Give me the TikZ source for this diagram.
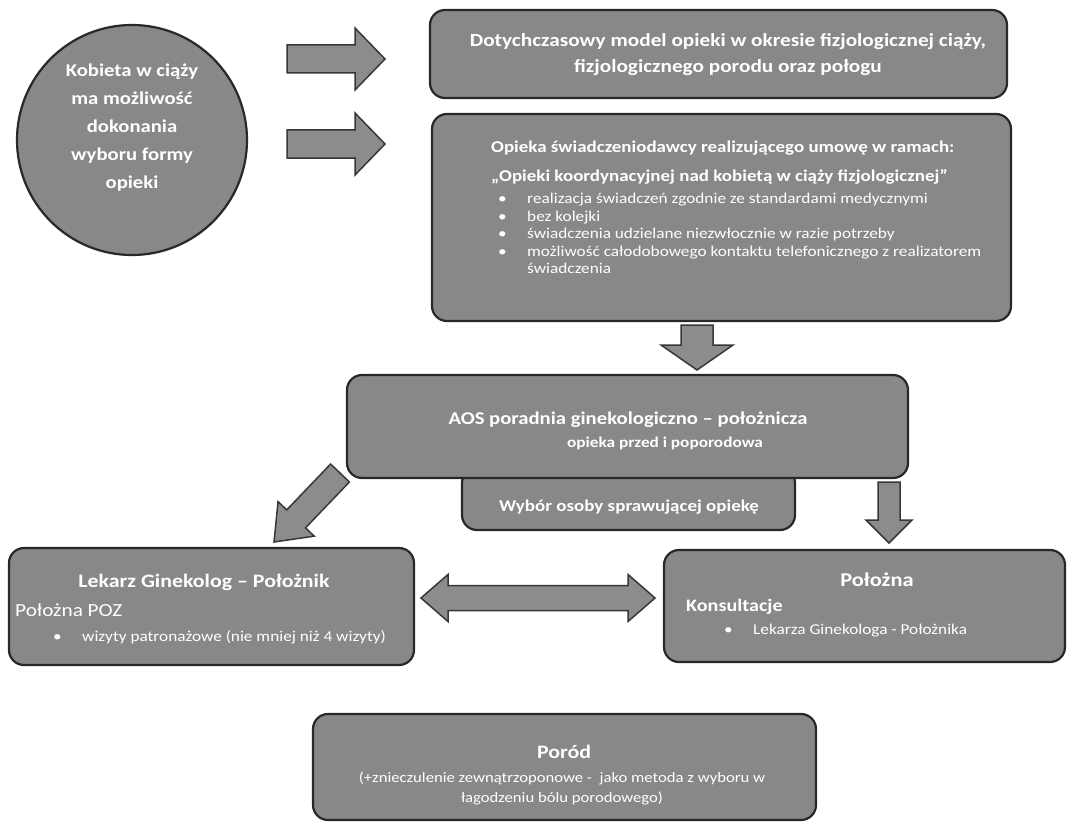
\documentclass[tikz,border=0pt]{standalone}
\usepackage{fontspec}
\setmainfont{Carlito}[FakeStretch=1.15]
\usetikzlibrary{calc}
\definecolor{boxgray}{RGB}{136,136,136}
\definecolor{edgegray}{RGB}{40,40,40}
\definecolor{arrgray}{RGB}{140,140,140}
\definecolor{arredge}{RGB}{55,55,55}
\tikzset{
  box/.style={draw=edgegray, fill=boxgray, line width=2.2pt, rounded corners=15pt, inner sep=0pt},
  arrowblk/.style={draw=arredge, fill=arrgray, line width=1.5pt, line join=miter},
  wt/.style={text=white, inner sep=0pt},
}
\newcommand\blockarrow[5]{%
  \coordinate (bac) at ($(#2)!#5!(#1)$);
  \filldraw[arrowblk] ($(#1)!#3!90:(#2)$) -- ($(bac)!#3!90:(#2)$) -- ($(bac)!#4!90:(#2)$) -- (#2)
    -- ($(bac)!#4!-90:(#2)$) -- ($(bac)!#3!-90:(#2)$) -- ($(#1)!#3!-90:(#2)$) -- cycle;
}
\newcommand\dblarrow[5]{%
  \coordinate (dbA) at ($(#1)!#5!(#2)$);
  \coordinate (dbB) at ($(#2)!#5!(#1)$);
  \filldraw[arrowblk] (#1) -- ($(dbA)!#4!90:(#2)$) -- ($(dbA)!#3!90:(#2)$) -- ($(dbB)!#3!90:(#2)$)
    -- ($(dbB)!#4!90:(#2)$) -- (#2) -- ($(dbB)!#4!-90:(#2)$) -- ($(dbB)!#3!-90:(#2)$)
    -- ($(dbA)!#3!-90:(#2)$) -- ($(dbA)!#4!-90:(#2)$) -- cycle;
}
\newcommand\bul{\makebox[29pt][l]{•}}
\begin{document}
\begin{tikzpicture}[x=1pt,y=-1pt]
\useasboundingbox (0,0) rectangle (1078,824);
\fill[white] (0,0) rectangle (1078,824);

% circle
\node[circle, draw=edgegray, fill=boxgray, line width=2.2pt, minimum size=230pt, inner sep=0pt] (circ) at (132,140) {};
\node[wt, align=center, font=\fontsize{18}{28}\selectfont\bfseries] (circt) at (132,128)
  {Kobieta w ciąży\\ma możliwość\\dokonania\\wyboru formy\\opieki};

% box 1
\node[box, minimum width=577pt, minimum height=88pt] (box1) at (718.5,54) {};
\node[wt, align=center, font=\fontsize{18.5}{26}\selectfont\bfseries] (box1t) at (728,55)
  {Dotychczasowy model opieki w okresie fizjologicznej ciąży,\\fizjologicznego porodu oraz połogu};

% box 2
\node[box, minimum width=579pt, minimum height=207pt] (box2) at (721.5,217.5) {};
\node[wt, anchor=west, align=left, font=\fontsize{16.5}{29}\selectfont\bfseries] (box2t) at (491,163)
  {Opieka świadczeniodawcy realizującego umowę w ramach:\\„Opieki koordynacyjnej nad kobietą w ciąży fizjologicznej”};
\node[wt, anchor=north west, align=left, font=\fontsize{15}{17.5}\selectfont] (box2l) at (498,193)
  {\bul realizacja świadczeń zgodnie ze standardami medycznymi\\
   \bul bez kolejki\\
   \bul świadczenia udzielane niezwłocznie w razie potrzeby\\
   \bul możliwość całodobowego kontaktu telefonicznego z realizatorem\\
   \hspace*{29pt}świadczenia};

% Wybór (behind AOS)
\node[box, minimum width=333pt, minimum height=62pt] (wyb) at (628.5,499) {};
\node[wt, font=\fontsize{16.5}{20}\selectfont\bfseries] (wybt) at (629,507) {Wybór osoby sprawującej opiekę};

% AOS
\node[box, minimum width=561pt, minimum height=103pt] (aos) at (627.5,426.5) {};
\node[wt, font=\fontsize{18}{20}\selectfont\bfseries] (aost) at (628,420) {AOS poradnia ginekologiczno – położnicza};
\node[wt, font=\fontsize{15}{18}\selectfont\bfseries] (aoss) at (665,443) {opieka przed i poporodowa};

% Lekarz
\node[box, minimum width=405pt, minimum height=117pt] (lek) at (211.5,606.5) {};
\node[wt, font=\fontsize{19}{22}\selectfont\bfseries] (lekt) at (204,582) {Lekarz Ginekolog – Położnik};
\node[wt, anchor=west, font=\fontsize{18.5}{22}\selectfont] (lekp) at (15,610) {Położna POZ};
\node[wt, anchor=west, font=\fontsize{15}{17}\selectfont] (lekb) at (53,637) {\bul wizyty patronażowe (nie mniej niż 4 wizyty)};

% Położna
\node[box, minimum width=401pt, minimum height=112pt] (pol) at (864.5,606) {};
\node[wt, font=\fontsize{19.5}{22}\selectfont\bfseries] (polt) at (877,580) {Położna};
\node[wt, anchor=west, font=\fontsize{17.5}{20}\selectfont\bfseries] (polk) at (686,607) {Konsultacje};
\node[wt, anchor=west, font=\fontsize{15}{17}\selectfont] (polb) at (724,631) {\bul Lekarza Ginekologa - Położnika};

% Poród
\node[box, minimum width=503pt, minimum height=106pt] (por) at (564.5,767) {};
\node[wt, font=\fontsize{19}{22}\selectfont\bfseries] (port) at (564,752) {Poród};
\node[wt, align=center, font=\fontsize{14.5}{20}\selectfont] (pors) at (562,788)
  {(+znieczulenie zewnątrzoponowe -\ \ jako metoda z wyboru w\\łagodzeniu bólu porodowego)};

% arrow end coordinates
\coordinate (a1s) at (287,59);  \coordinate (a1e) at (385,59);
\coordinate (a2s) at (287,144); \coordinate (a2e) at (385,144);
\coordinate (a3s) at (697,325); \coordinate (a3e) at (697,370);
\coordinate (a4s) at (340,473); \coordinate (a4e) at (274,542);
\coordinate (a5s) at (889,482); \coordinate (a5e) at (889,543);
\coordinate (d1) at (421,598);  \coordinate (d2) at (655,598);

\blockarrow{a1s}{a1e}{14pt}{31pt}{30pt}
\blockarrow{a2s}{a2e}{14pt}{31pt}{30pt}
\blockarrow{a3s}{a3e}{16pt}{36pt}{25pt}
\blockarrow{a4s}{a4e}{13pt}{25pt}{32pt}
\blockarrow{a5s}{a5e}{11pt}{23pt}{23pt}
\dblarrow{d1}{d2}{12.5pt}{23.5pt}{27pt}
\end{tikzpicture}
\end{document}
